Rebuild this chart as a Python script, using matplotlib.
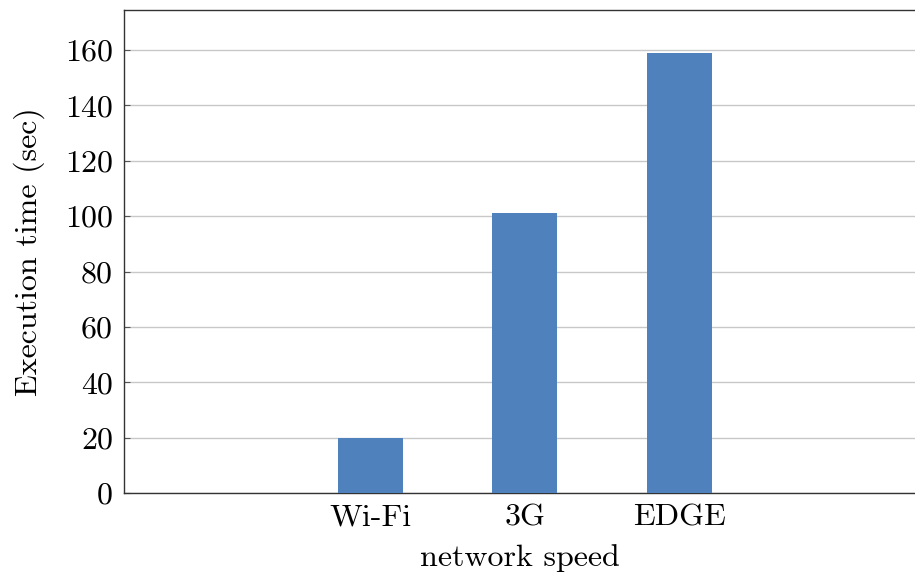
import matplotlib
matplotlib.use("Agg")
import matplotlib.pyplot as plt

categories = ["Wi-Fi", "3G", "EDGE"]
values = [20, 101, 159]
yticks = [0, 20, 40, 60, 80, 100, 120, 140, 160]

plt.rcParams['font.family'] = ['cmr10', 'DejaVu Serif']
plt.rcParams['axes.formatter.use_mathtext'] = True

fig = plt.figure(figsize=(9.15, 5.75), dpi=100)
ax = fig.add_axes([124/915, 82/575, 791/915, 483/575])

x = list(range(len(categories)))
ax.bar(x, values, width=0.42, color="#4f81bd", zorder=3)
ax.set_xlim(-1.59, 3.52)
ax.set_ylim(0, 174.5)
ax.set_yticks(yticks)
ax.set_yticklabels([str(t) for t in yticks])
ax.set_xticks(x)
ax.set_xticklabels(categories)
ax.yaxis.grid(True, color="#c8c8c8", linewidth=1.0, zorder=0)
ax.set_axisbelow(True)
ax.tick_params(axis='y', direction='in', length=4, color="#555555", labelsize=23, pad=8)
ax.tick_params(axis='x', length=0, labelsize=23, pad=8)
for s in ['left', 'bottom', 'top']:
    ax.spines[s].set_color("#333333")
    ax.spines[s].set_linewidth(1.0)
ax.spines['right'].set_visible(False)
ax.set_xlabel("network speed", fontsize=23, labelpad=9)
ax.set_ylabel("Execution time (sec)", fontsize=23, labelpad=14)

fig.savefig("out.png", dpi=100)
